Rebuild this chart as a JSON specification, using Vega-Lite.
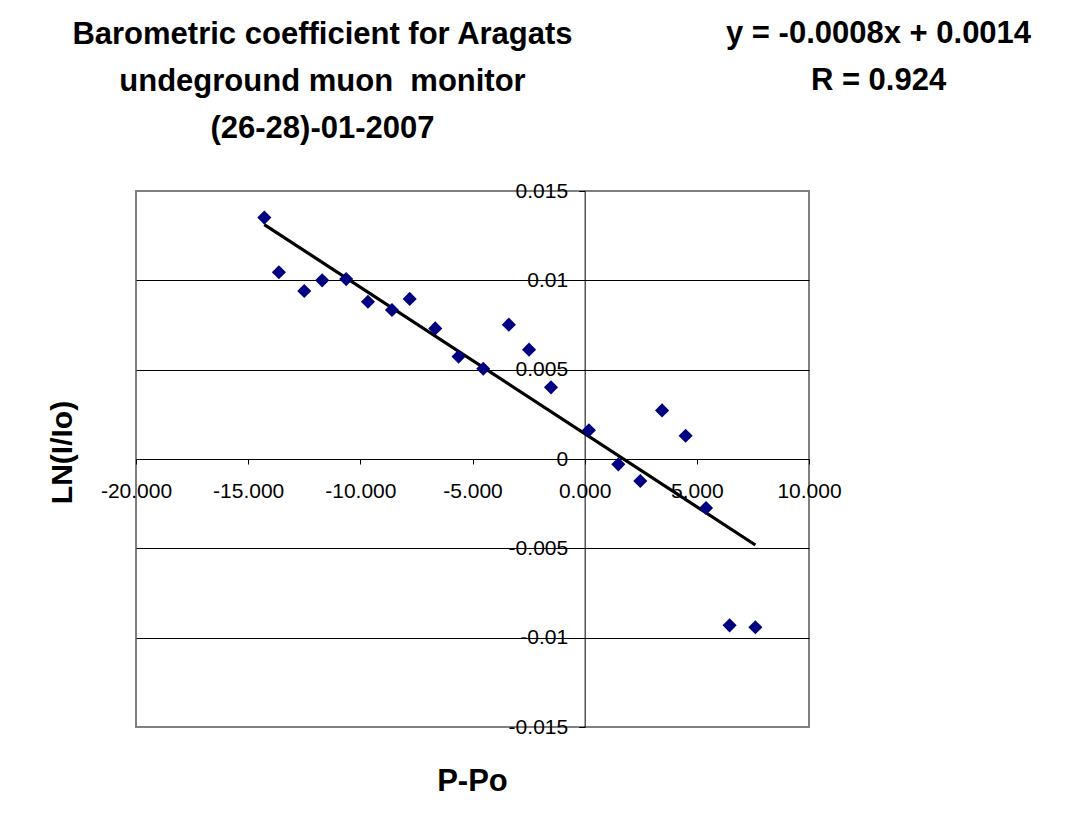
{
  "$schema": "https://vega.github.io/schema/vega-lite/v6.json",
  "width": 673,
  "height": 536,
  "autosize": {"type": "none"},
  "padding": {"left": 136, "top": 191, "right": 271, "bottom": 100},
  "background": "white",
  "title": {
    "text": ["Barometric coefficient for Aragats", "undeground muon\u00a0 monitor", "(26-28)-01-2007"],
    "anchor": "middle",
    "frame": "group",
    "font": "Liberation Sans",
    "fontSize": 31,
    "fontWeight": "bold",
    "color": "black",
    "lineHeight": 47,
    "dx": -150,
    "dy": 127,
    "offset": 0
  },
  "datasets": {
    "pts": [
      {"dp": -14.28, "lnI": 0.01351},
      {"dp": -13.63, "lnI": 0.01045},
      {"dp": -12.50, "lnI": 0.00940},
      {"dp": -11.70, "lnI": 0.01000},
      {"dp": -10.63, "lnI": 0.01007},
      {"dp": -9.66, "lnI": 0.00880},
      {"dp": -8.59, "lnI": 0.00834},
      {"dp": -7.80, "lnI": 0.00896},
      {"dp": -6.66, "lnI": 0.00731},
      {"dp": -5.62, "lnI": 0.00573},
      {"dp": -4.52, "lnI": 0.00505},
      {"dp": -3.38, "lnI": 0.00752},
      {"dp": -2.48, "lnI": 0.00612},
      {"dp": -1.50, "lnI": 0.00401},
      {"dp": 0.19, "lnI": 0.00161},
      {"dp": 1.50, "lnI": -0.00030},
      {"dp": 2.48, "lnI": -0.00123},
      {"dp": 3.45, "lnI": 0.00272},
      {"dp": 4.50, "lnI": 0.00130},
      {"dp": 5.41, "lnI": -0.00274},
      {"dp": 6.46, "lnI": -0.00931},
      {"dp": 7.61, "lnI": -0.00942}
    ],
    "eq": [
      {"label": "y = -0.0008x + 0.0014\nR = 0.924"}
    ]
  },
  "layer": [
    {
      "data": {"name": "pts"},
      "transform": [{"regression": "lnI", "on": "dp"}],
      "mark": {"type": "line", "color": "black", "strokeWidth": 3.2},
      "encoding": {
        "x": {
          "field": "dp",
          "type": "quantitative",
          "scale": {"domain": [-20, 10], "nice": false, "zero": false},
          "axis": {
            "orient": "bottom",
            "offset": -268,
            "values": [-20, -15, -10, -5, 0, 5, 10],
            "format": ".3f",
            "labelExpr": "replace(datum.label, '\u2212', '-')",
            "grid": false,
            "tickSize": 5,
            "labelPadding": 16,
            "labelOverlap": false,
            "labelBound": false,
            "labelFlush": false,
            "title": "P-Po",
            "titleFontSize": 31,
            "titleX": 336,
            "titleY": 331,
            "titleBaseline": "alphabetic",
            "titleAlign": "center"
          }
        },
        "y": {
          "field": "lnI",
          "type": "quantitative",
          "scale": {"domain": [-0.015, 0.015], "nice": false, "zero": false},
          "axis": {
            "orient": "left",
            "offset": -448.67,
            "values": [-0.015, -0.01, -0.005, 0, 0.005, 0.01, 0.015],
            "format": "~g",
            "labelExpr": "replace(datum.label, '\u2212', '-')",
            "grid": true,
            "gridColor": {"condition": {"test": "abs(datum.value) > 0.014", "value": "#808080"}, "value": "black"},
            "gridWidth": 1,
            "tickSize": 6,
            "labelPadding": 11,
            "labelBaseline": "middle",
            "labelOverlap": false,
            "labelBound": false,
            "labelFlush": false,
            "title": "LN(I/Io)",
            "titleFontSize": 30,
            "titleAngle": 270,
            "titleX": -522.67,
            "titleY": 261,
            "titleBaseline": "middle",
            "titleAlign": "center"
          }
        }
      }
    },
    {
      "data": {"name": "pts"},
      "mark": {"type": "point", "shape": "diamond", "filled": true, "color": "#000080", "opacity": 1, "size": 200},
      "encoding": {
        "x": {"field": "dp", "type": "quantitative"},
        "y": {"field": "lnI", "type": "quantitative"}
      }
    },
    {
      "data": {"name": "eq"},
      "mark": {"type": "text", "lineBreak": "\n", "lineHeight": 47, "align": "center", "baseline": "alphabetic", "font": "Liberation Sans", "fontSize": 31, "fontWeight": "bold", "color": "black"},
      "encoding": {
        "x": {"datum": 13.1},
        "y": {"datum": 0.0233},
        "text": {"field": "label"}
      }
    }
  ],
  "config": {
    "font": "Liberation Sans",
    "view": {"stroke": "#808080", "strokeWidth": 2},
    "axis": {
      "labelFont": "Liberation Sans",
      "labelFontSize": 21,
      "labelColor": "black",
      "domainColor": "black",
      "domainWidth": 1,
      "tickColor": "black",
      "tickWidth": 1,
      "titleFont": "Liberation Sans",
      "titleFontWeight": "bold",
      "titleColor": "black"
    }
  }
}
